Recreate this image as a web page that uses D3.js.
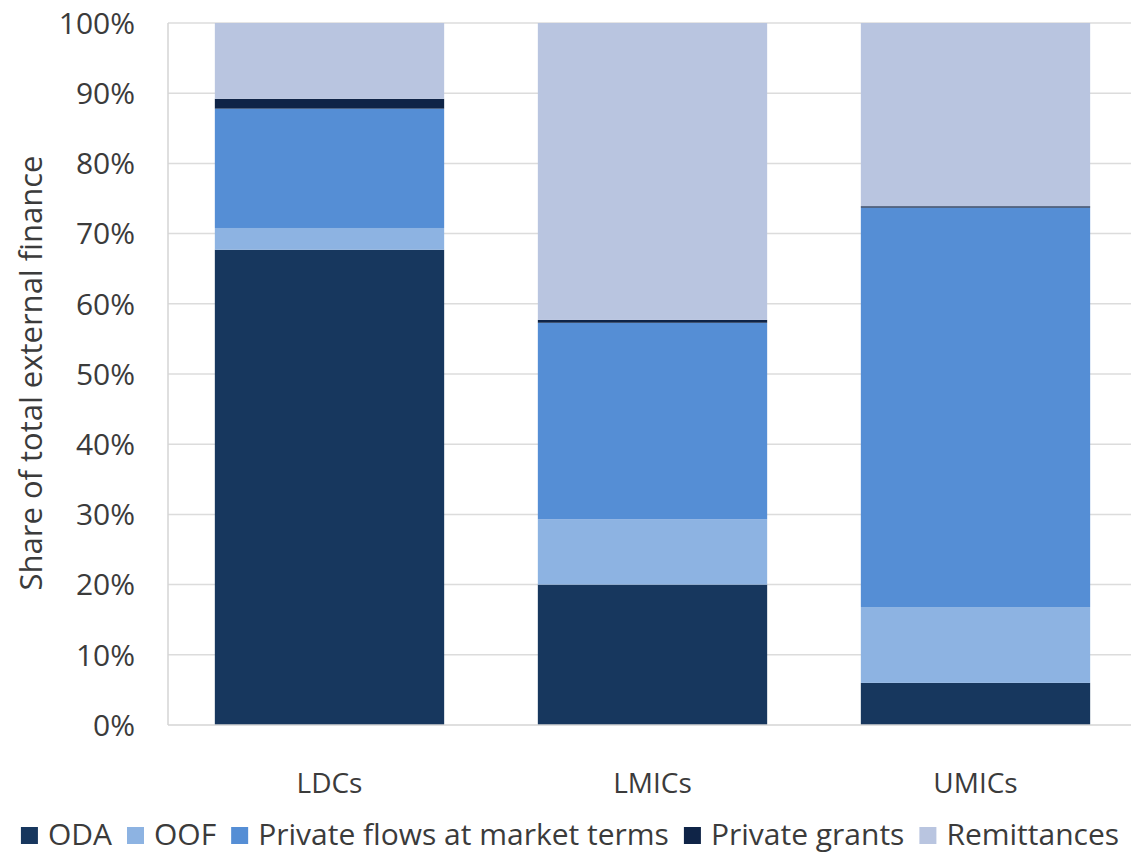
<!DOCTYPE html>
<html>
<head>
<meta charset="utf-8">
<script src="https://cdn.jsdelivr.net/npm/d3@7"></script>
<style>
  body { margin: 0; background: #fff; }
  text { font-family: "Open Sans", sans-serif; fill: #3b3b3b; }
</style>
</head>
<body>
<div id="chart"></div>
<script>
"use strict";

// Chart data (percent of total external finance)
var categories = ["LDCs", "LMICs", "UMICs"];
var seriesNames = ["ODA", "OOF", "Private flows at market terms", "Private grants", "Remittances"];
var oda = [67.7, 20.0, 6.0];
var oof = [3.1, 9.3, 10.8];
var privateFlows = [17.0, 28.0, 56.9];
var privateGrants = [1.4, 0.4, 0.2];
var remittances = [10.8, 42.3, 26.1];
var yTicks = [0, 10, 20, 30, 40, 50, 60, 70, 80, 90, 100];

var colors = ["#17375e", "#8db3e2", "#558ed5", "#0f2447", "#b9c5e0"];

var width = 1131,
	height = 853,
	plot = { left: 168, right: 1137, top: 23, bottom: 725 };

var svg = d3.select("#chart").append("svg")
	.attr("width", width)
	.attr("height", height);

// Build rows for the stack
var rows = categories.map(function (c, i) {
	return {
		cat: c,
		"ODA": oda[i],
		"OOF": oof[i],
		"Private flows at market terms": privateFlows[i],
		"Private grants": privateGrants[i],
		"Remittances": remittances[i]
	};
});
var stacked = d3.stack().keys(seriesNames)(rows);

var x = d3.scaleBand()
	.domain(categories)
	.range([plot.left, plot.right])
	.paddingInner(0.29)
	.paddingOuter(0.145);

var y = d3.scaleLinear()
	.domain([0, 100])
	.range([plot.bottom, plot.top]);

// Gridlines
svg.append("g")
	.selectAll("line")
	.data(yTicks.slice(1))
	.enter().append("line")
	.attr("x1", plot.left)
	.attr("x2", plot.right)
	.attr("y1", function (d) { return y(d); })
	.attr("y2", function (d) { return y(d); })
	.attr("stroke", "#dcdcdc")
	.attr("stroke-width", 1.5);

// Left line
svg.append("line")
	.attr("x1", plot.left).attr("x2", plot.left)
	.attr("y1", plot.top).attr("y2", plot.bottom)
	.attr("stroke", "#d4d4d4")
	.attr("stroke-width", 1.5);

// Bars
svg.append("g")
	.selectAll("g")
	.data(stacked)
	.enter().append("g")
	.attr("fill", function (d, i) { return colors[i]; })
	.selectAll("rect")
	.data(function (d) { return d; })
	.enter().append("rect")
	.attr("x", function (d) { return x(d.data.cat); })
	.attr("width", x.bandwidth())
	.attr("y", function (d) { return y(d[1]); })
	.attr("height", function (d) { return y(d[0]) - y(d[1]); });

// Bottom axis line
svg.append("line")
	.attr("x1", plot.left).attr("x2", plot.right)
	.attr("y1", plot.bottom).attr("y2", plot.bottom)
	.attr("stroke", "#d4d4d4")
	.attr("stroke-width", 1.5);

// Y axis
var yAxis = d3.axisLeft(y)
	.tickValues(yTicks)
	.tickSize(0)
	.tickPadding(0)
	.tickFormat(function (d) { return d + "%"; });

var yAxisG = svg.append("g")
	.attr("transform", "translate(135,0)")
	.call(yAxis);
yAxisG.select(".domain").remove();
yAxisG.selectAll("text")
	.attr("font-size", 30)
	.attr("font-family", null)
	.attr("fill", null)
	.attr("dy", "0.34em");

// X axis
var xAxis = d3.axisBottom(x).tickSize(0).tickPadding(0);
var xAxisG = svg.append("g")
	.attr("transform", "translate(0,773)")
	.call(xAxis);
xAxisG.select(".domain").remove();
xAxisG.selectAll("text")
	.attr("font-size", 28)
	.attr("font-family", null)
	.attr("fill", null)
	.attr("dy", "0.72em");

// Y axis title
svg.append("text")
	.attr("transform", "translate(42,373) rotate(-90)")
	.attr("text-anchor", "middle")
	.attr("font-size", 31)
	.text("Share of total external finance");

// Legend
var legend = svg.append("g");
var cursor = 0;
seriesNames.forEach(function (name, i) {
	var item = legend.append("g").attr("transform", "translate(" + cursor + ",0)");
	item.append("rect")
		.attr("x", 0)
		.attr("y", -18)
		.attr("width", 17)
		.attr("height", 17)
		.attr("fill", colors[i]);
	var t = item.append("text")
		.attr("x", 27)
		.attr("y", 0)
		.attr("font-size", 30)
		.text(name);
	cursor += 27 + t.node().getComputedTextLength() + 15;
});
var legendWidth = cursor - 15;
legend.attr("transform", "translate(" + (570 - legendWidth / 2) + ",845)");
</script>
</body>
</html>
